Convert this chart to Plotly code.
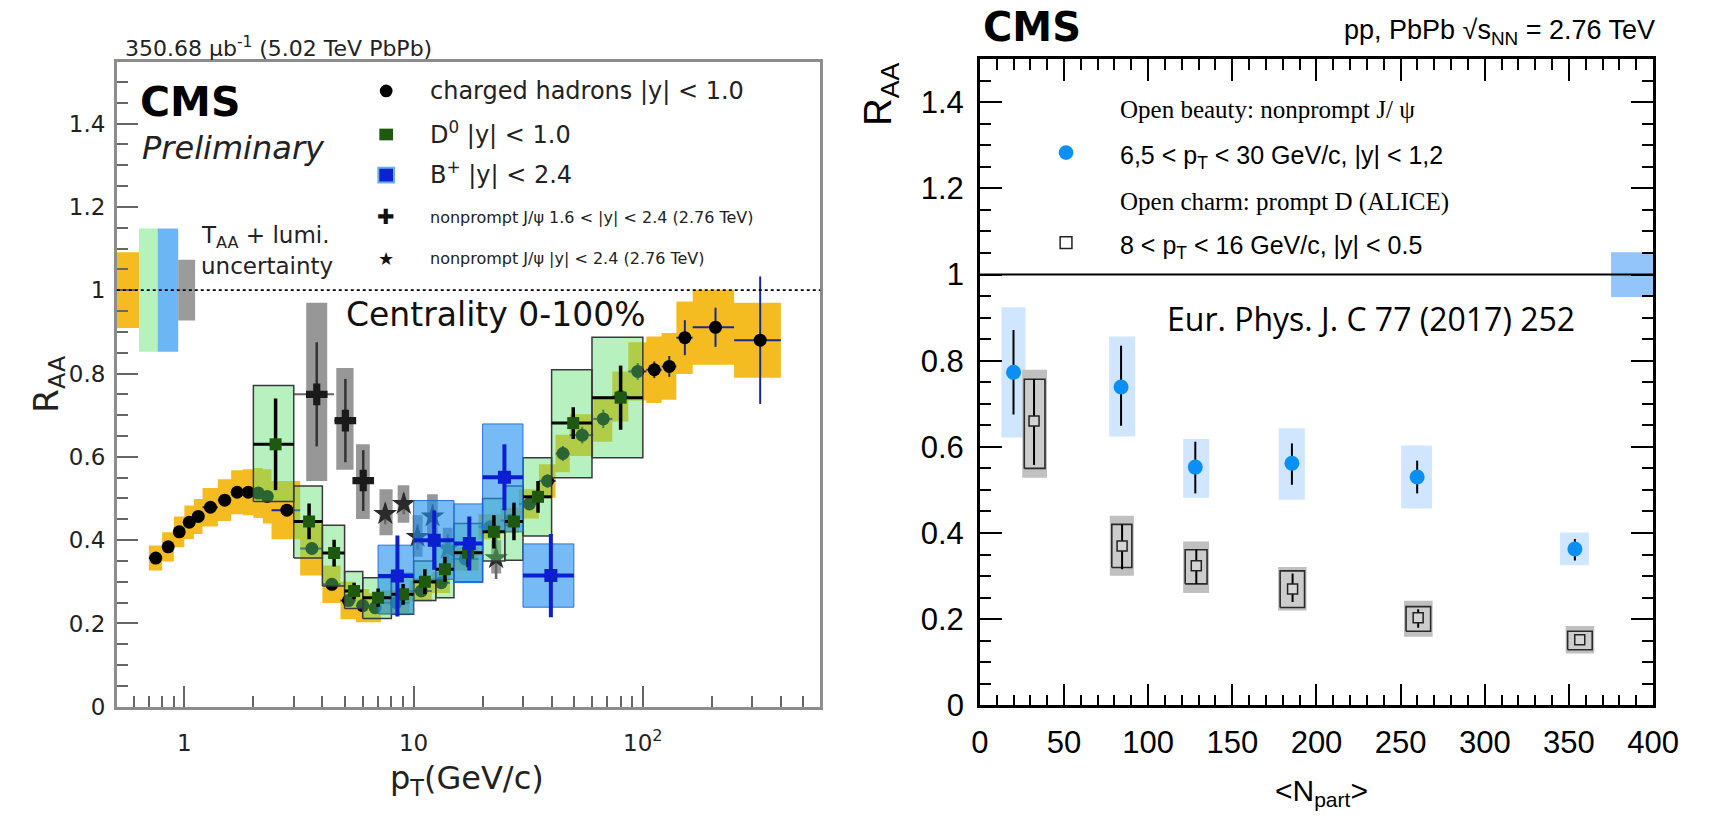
import plotly.graph_objects as go

W, H = 1720, 827

# ---------------- Left panel data (CMS 5.02 TeV, R_AA vs pT) ----------------
ch_pt = [0.75, 0.85, 0.95, 1.05, 1.15, 1.3, 1.5, 1.7, 1.9, 2.1, 2.3, 2.8, 3.6, 4.4, 5.2, 6.0, 6.8, 8.4,
         10.8, 13.2, 16.8, 21.6, 26.4, 32.0, 38.4, 44.8, 54.4, 67.2, 80.0, 95.0, 112.2, 130.4, 152.5, 207.5, 325.0]
ch_lo = [0.7, 0.8, 0.9, 1.0, 1.1, 1.2, 1.4, 1.6, 1.8, 2.0, 2.2, 2.4, 3.2, 4.0, 4.8, 5.6, 6.4, 7.2,
         9.6, 12.0, 14.4, 19.2, 24.0, 28.8, 35.2, 41.6, 48.0, 60.8, 73.6, 86.4, 103.6, 120.8, 140.0, 165.0, 250.0]
ch_hi = [0.8, 0.9, 1.0, 1.1, 1.2, 1.4, 1.6, 1.8, 2.0, 2.2, 2.4, 3.2, 4.0, 4.8, 5.6, 6.4, 7.2, 9.6,
         12.0, 14.4, 19.2, 24.0, 28.8, 35.2, 41.6, 48.0, 60.8, 73.6, 86.4, 103.6, 120.8, 140.0, 165.0, 250.0, 400.0]
ch_raa = [0.357, 0.384, 0.420, 0.443, 0.457, 0.479, 0.496, 0.515, 0.515, 0.513, 0.505, 0.472, 0.380, 0.294,
          0.255, 0.243, 0.238, 0.250, 0.278, 0.298, 0.355, 0.432, 0.447, 0.487, 0.542, 0.608, 0.652, 0.691,
          0.745, 0.805, 0.809, 0.817, 0.886, 0.911, 0.880]
ch_stat = [0.004, 0.004, 0.004, 0.004, 0.004, 0.004, 0.004, 0.004, 0.004, 0.004, 0.004, 0.006, 0.006, 0.005,
           0.005, 0.005, 0.005, 0.005, 0.006, 0.007, 0.008, 0.010, 0.012, 0.014, 0.016, 0.018, 0.020, 0.022,
           0.025, 0.020, 0.020, 0.025, 0.042, 0.047, 0.153]
ch_syst = [0.030, 0.035, 0.037, 0.040, 0.042, 0.046, 0.050, 0.053, 0.055, 0.060, 0.065, 0.070, 0.065, 0.045,
           0.045, 0.040, 0.035, 0.030, 0.025, 0.025, 0.028, 0.030, 0.030, 0.035, 0.040, 0.045, 0.050, 0.055,
           0.060, 0.070, 0.080, 0.080, 0.087, 0.090, 0.090]

d0_pt = [2.5, 3.5, 4.5, 5.5, 7.0, 9.0, 11.2, 13.7, 17.3, 22.4, 27.4, 34.9, 49.7, 80.0]
d0_lo = [2, 3, 4, 5, 6, 8, 10, 12.5, 15, 20, 25, 30, 40, 60]
d0_hi = [3, 4, 5, 6, 8, 10, 12.5, 15, 20, 25, 30, 40, 60, 100]
d0_raa = [0.630, 0.445, 0.369, 0.278, 0.262, 0.270, 0.300, 0.330, 0.370, 0.420, 0.445, 0.504, 0.681, 0.742]
d0_stat = [0.110, 0.043, 0.032, 0.020, 0.022, 0.025, 0.030, 0.030, 0.035, 0.040, 0.045, 0.038, 0.038, 0.077]
d0_sys_lo = [0.493, 0.357, 0.290, 0.236, 0.212, 0.222, 0.255, 0.262, 0.300, 0.350, 0.352, 0.410, 0.550, 0.598]
d0_sys_hi = [0.771, 0.530, 0.436, 0.325, 0.310, 0.320, 0.350, 0.400, 0.440, 0.500, 0.530, 0.598, 0.809, 0.887]

bp_pt = [8.5, 12.3, 17.5, 24.9, 39.7]
bp_lo = [7, 10, 15, 20, 30]
bp_hi = [10, 15, 20, 30, 50]
bp_raa = [0.314, 0.400, 0.392, 0.551, 0.315]
bp_stat = [0.097, 0.071, 0.065, 0.079, 0.100]
bp_sys_lo = [0.223, 0.306, 0.298, 0.420, 0.239]
bp_sys_hi = [0.388, 0.495, 0.487, 0.679, 0.391]

jf_pt = [3.78, 5.04, 6.03]
jf_lo = [3.0, 4.5, 5.5]
jf_hi = [4.5, 5.5, 6.5]
jf_raa = [0.750, 0.687, 0.543]
jf_stat = [0.125, 0.100, 0.073]
jf_box_x0 = [3.40, 4.60, 5.61]
jf_box_x1 = [4.20, 5.47, 6.44]
jf_sys_lo = [0.542, 0.569, 0.451]
jf_sys_hi = [0.970, 0.813, 0.630]

js_pt = [7.52, 9.06, 10.4, 12.1, 14.1, 22.9]
js_raa = [0.463, 0.487, 0.408, 0.457, 0.380, 0.357]
js_stat = [0.025, 0.025, 0.030, 0.030, 0.035, 0.050]
js_box_x0 = [7.10, 8.52, 9.90, 11.45, 13.4, 21.8]
js_box_x1 = [8.10, 9.58, 10.95, 12.75, 14.8, 24.1]
js_sys_lo = [0.412, 0.442, 0.360, 0.410, 0.330, 0.320]
js_sys_hi = [0.522, 0.532, 0.460, 0.510, 0.430, 0.400]

glob_x0 = [0.507, 0.634, 0.764, 0.940]
glob_x1 = [0.634, 0.764, 0.940, 1.114]
glob_lo = [0.909, 0.852, 0.852, 0.927]
glob_hi = [1.091, 1.148, 1.148, 1.073]
glob_col = ["#f5bc22", "#b6f2bd", "#6db6f5", "#9b9b9b"]

# ---------------- Right panel data (CMS 2.76 TeV, R_AA vs Npart) ----------------
np_b = [20.0, 83.9, 128.0, 185.4, 259.8, 353.5]
raa_b = [0.773, 0.739, 0.553, 0.562, 0.530, 0.363]
stat_b_up = [0.098, 0.096, 0.059, 0.046, 0.038, 0.023]
stat_b_dn = [0.098, 0.090, 0.061, 0.050, 0.038, 0.027]
box_b_x0 = [12.8, 76.8, 120.8, 177.6, 250.3, 344.7]
box_b_x1 = [27.1, 92.3, 136.3, 193.1, 268.6, 361.8]
box_b_lo = [0.622, 0.624, 0.482, 0.477, 0.457, 0.325]
box_b_hi = [0.924, 0.856, 0.618, 0.643, 0.603, 0.401]

np_d = [32.2, 84.5, 128.6, 185.8, 260.4, 356.4]
raa_d = [0.660, 0.370, 0.324, 0.270, 0.203, 0.152]
stat_d_up = [0.097, 0.050, 0.037, 0.036, 0.020, 0.008]
stat_d_dn = [0.102, 0.054, 0.042, 0.030, 0.023, 0.008]
box_d_x0 = [26.4, 78.4, 122.0, 178.4, 253.2, 349.2]
box_d_x1 = [38.7, 90.3, 135.0, 192.9, 267.8, 363.8]
box_d_lo = [0.550, 0.320, 0.282, 0.227, 0.172, 0.129]
box_d_hi = [0.757, 0.420, 0.361, 0.312, 0.229, 0.172]
shade_d_lo = [0.528, 0.301, 0.261, 0.220, 0.159, 0.120]
shade_d_hi = [0.779, 0.440, 0.380, 0.321, 0.243, 0.184]

glob_r_x0, glob_r_x1 = [375.0], [400.0]
glob_r_lo, glob_r_hi = [0.948], [1.052]

REF = 1.0

left_xticks = [1, 10, 100]
left_xticktext = ["1", "10", "10<sup>2</sup>"]
left_xminor = [0.6, 0.7, 0.8, 0.9, 2, 3, 4, 5, 6, 7, 8, 9, 20, 30, 40, 50, 60, 70, 80, 90, 200, 300, 400, 500]
ytick_vals = [0, 0.2, 0.4, 0.6, 0.8, 1.0, 1.2, 1.4]
ytick_text = ["0", "0.2", "0.4", "0.6", "0.8", "1", "1.2", "1.4"]
right_xticks = [0, 50, 100, 150, 200, 250, 300, 350, 400]


def rects(x0s, x1s, y0s, y1s):
    xs, ys = [], []
    for a, b, c, d in zip(x0s, x1s, y0s, y1s):
        xs += [a, b, b, a, a, None]
        ys += [c, c, d, d, c, None]
    return xs, ys


def box_trace(x0s, x1s, y0s, y1s, fill, line_col=None, lw=0, xa="x", ya="y"):
    xs, ys = rects(x0s, x1s, y0s, y1s)
    return go.Scatter(x=xs, y=ys, mode="lines", fill="toself", fillcolor=fill,
                      line=dict(color=line_col if line_col else "rgba(0,0,0,0)", width=lw),
                      hoverinfo="skip", xaxis=xa, yaxis=ya)


fig = go.Figure()

# global uncertainty boxes (left)
for i in range(len(glob_x0)):
    fig.add_trace(box_trace([glob_x0[i]], [glob_x1[i]], [glob_lo[i]], [glob_hi[i]], glob_col[i]))

# charged hadrons systematics
fig.add_trace(box_trace(ch_lo, ch_hi, [r - s for r, s in zip(ch_raa, ch_syst)],
                        [r + s for r, s in zip(ch_raa, ch_syst)], "#f5bc22"))
# charged hadrons points
fig.add_trace(go.Scatter(
    x=ch_pt, y=ch_raa, mode="markers",
    marker=dict(symbol="circle", size=13, color="black"),
    error_y=dict(type="data", array=ch_stat, color="#1b2a8a", thickness=2, width=0),
    error_x=dict(type="data", array=[h - p for h, p in zip(ch_hi, ch_pt)],
                 arrayminus=[p - l for p, l in zip(ch_pt, ch_lo)], color="#1b2a8a", thickness=2, width=0),
    hoverinfo="skip"))

# nonprompt J/psi boxes and points
fig.add_trace(box_trace(jf_box_x0, jf_box_x1, jf_sys_lo, jf_sys_hi, "rgba(125,125,125,0.8)"))
fig.add_trace(box_trace(js_box_x0, js_box_x1, js_sys_lo, js_sys_hi, "rgba(125,125,125,0.8)"))
fig.add_trace(go.Scatter(
    x=jf_pt, y=jf_raa, mode="markers",
    marker=dict(symbol="cross", size=18, color="#1a1a1a", line=dict(width=0)),
    error_y=dict(type="data", array=jf_stat, color="#333333", thickness=2.5, width=0),
    error_x=dict(type="data", array=[h - p for h, p in zip(jf_hi, jf_pt)],
                 arrayminus=[p - l for p, l in zip(jf_pt, jf_lo)], color="#666666", thickness=2, width=0),
    hoverinfo="skip"))
fig.add_trace(go.Scatter(
    x=js_pt, y=js_raa, mode="markers",
    marker=dict(symbol="star", size=18, color="#2a2a2a", line=dict(width=0)),
    error_y=dict(type="data", array=js_stat, color="#666666", thickness=2.5, width=0),
    hoverinfo="skip"))

# D0 boxes, B+ boxes
fig.add_trace(box_trace(d0_lo, d0_hi, d0_sys_lo, d0_sys_hi, "rgba(95,225,115,0.45)", "#3a3a3a", 1.5))
fig.add_trace(box_trace(bp_lo, bp_hi, bp_sys_lo, bp_sys_hi, "rgba(35,145,240,0.62)", "rgba(30,100,220,0.9)", 1))

fig.add_trace(go.Scatter(
    x=d0_pt, y=d0_raa, mode="markers",
    marker=dict(symbol="square", size=12, color="#1d5a10"),
    error_y=dict(type="data", array=d0_stat, color="black", thickness=3.5, width=0),
    error_x=dict(type="data", array=[h - p for h, p in zip(d0_hi, d0_pt)],
                 arrayminus=[p - l for p, l in zip(d0_pt, d0_lo)], color="black", thickness=3, width=0),
    hoverinfo="skip"))
fig.add_trace(go.Scatter(
    x=bp_pt, y=bp_raa, mode="markers",
    marker=dict(symbol="square", size=13, color="#0b1ed0"),
    error_y=dict(type="data", array=bp_stat, color="#0b1ed0", thickness=4, width=0),
    error_x=dict(type="data", array=[h - p for h, p in zip(bp_hi, bp_pt)],
                 arrayminus=[p - l for p, l in zip(bp_pt, bp_lo)], color="#0b1ed0", thickness=4, width=0),
    hoverinfo="skip"))

# ---------------- Right panel traces ----------------
fig.add_trace(box_trace(glob_r_x0, glob_r_x1, glob_r_lo, glob_r_hi, "rgba(60,150,245,0.55)", xa="x2", ya="y2"))
fig.add_trace(box_trace(box_b_x0, box_b_x1, box_b_lo, box_b_hi, "rgba(40,140,255,0.22)", xa="x2", ya="y2"))
fig.add_trace(box_trace([a - 1.2 for a in box_d_x0], [b + 1.2 for b in box_d_x1], shade_d_lo, shade_d_hi,
                        "rgb(192,192,192)", xa="x2", ya="y2"))
fig.add_trace(box_trace(box_d_x0, box_d_x1, box_d_lo, box_d_hi, "rgb(204,204,204)", "#2a2a2a", 1.6,
                        xa="x2", ya="y2"))
fig.add_trace(go.Scatter(
    x=np_b, y=raa_b, mode="markers", xaxis="x2", yaxis="y2",
    marker=dict(symbol="circle", size=15, color="#0a90f5"),
    error_y=dict(type="data", array=stat_b_up, arrayminus=stat_b_dn, color="black", thickness=2, width=0),
    hoverinfo="skip"))
fig.add_trace(go.Scatter(
    x=np_d, y=raa_d, mode="markers", xaxis="x2", yaxis="y2",
    marker=dict(symbol="square", size=10, color="#d4d4d4", line=dict(color="#222222", width=1.5)),
    error_y=dict(type="data", array=stat_d_up, arrayminus=stat_d_dn, color="black", thickness=2, width=0),
    hoverinfo="skip"))


def px(p):
    return p / W


def py(p):
    return 1 - p / H


LF = "DejaVu Sans"
RF = "Liberation Sans"
SF = "Liberation Serif"

annotations = []


def ann(text, x, y, size, family, xanchor="left", yanchor="middle", color="black", angle=0):
    annotations.append(dict(text=text, x=px(x), y=py(y), xref="paper", yref="paper",
                            xanchor=xanchor, yanchor=yanchor, showarrow=False, textangle=angle,
                            font=dict(family=family, size=size, color=color)))


# left panel texts
ann("350.68 μb<sup>-1</sup> (5.02 TeV PbPb)", 116, 48, 22, LF, color="#222222")
ann("<b>CMS</b>", 132, 104, 41, LF)
ann("<i>Preliminary</i>", 134, 151, 32, LF, color="#222222")
ann("charged hadrons |y| &lt; 1.0", 428, 93, 24, LF, color="#222222")
ann("D<sup>0</sup> |y| &lt; 1.0", 428, 136, 24, LF, color="#222222")
ann("B<sup>+</sup> |y| &lt; 2.4", 428, 177, 24, LF, color="#222222")
ann("nonprompt J/ψ 1.6 &lt; |y| &lt; 2.4 (2.76 TeV)", 428, 222, 16, LF, color="#222222")
ann("nonprompt J/ψ |y| &lt; 2.4 (2.76 TeV)", 428, 264, 16, LF, color="#222222")
ann("✚", 385, 222, 21, LF, xanchor="center", color="#111111")
ann("★", 385, 264, 18, LF, xanchor="center", color="#111111")
ann("T<sub>AA</sub> + lumi.", 194, 242, 23, LF, color="#222222")
ann("uncertainty", 194, 272, 23, LF, color="#222222")
ann("Centrality 0-100%", 342, 322, 33, LF, color="#111111")
ann("R<sub>AA</sub>", 40, 392, 34, LF, xanchor="center", angle=-90, color="#222222")
ann("p<sub>T</sub>(GeV/c)", 468, 797, 32, LF, xanchor="center", color="#222222")

# right panel texts
ann("<b>CMS</b>", 992, 28, 40, LF)
ann("pp, PbPb √s<sub>NN</sub> = 2.76 TeV", 1682, 33, 27, RF, xanchor="right")
ann("R<sub>AA</sub>", 890, 96, 38, RF, xanchor="center", angle=-90)
ann("&lt;N<sub>part</sub>&gt;", 1340, 810, 30, RF, xanchor="center")
ann("Open beauty: nonprompt J/ ψ", 1132, 112, 25, SF)
ann("6,5 &lt; p<sub>T</sub> &lt; 30 GeV/c, |y| &lt; 1,2", 1132, 161, 25, RF)
ann("Open charm: prompt D (ALICE)", 1132, 206, 25, SF)
ann("8 &lt; p<sub>T</sub> &lt; 16 GeV/c, |y| &lt; 0.5", 1132, 253, 25, RF)
ann("Eur. Phys. J. C 77 (2017) 252", 1180, 326, 32, "Open Sans")

shapes = [
    dict(type="line", xref="x domain", yref="y", x0=0, x1=1, y0=REF, y1=REF,
         line=dict(color="black", width=1.8, dash="dot"), layer="above"),
    dict(type="line", xref="x2 domain", yref="y2", x0=0, x1=1, y0=REF, y1=REF,
         line=dict(color="black", width=2), layer="above"),
    # legend markers (left)
    dict(type="circle", xref="paper", yref="paper", x0=px(378.5), x1=px(391.5), y0=py(99.5), y1=py(86.5),
         fillcolor="black", line=dict(width=0)),
    dict(type="rect", xref="paper", yref="paper", x0=px(378), x1=px(392), y0=py(143.5), y1=py(131.5),
         fillcolor="#1d5a10", line=dict(width=0)),
    dict(type="rect", xref="paper", yref="paper", x0=px(377), x1=px(393), y0=py(186.5), y1=py(171.5),
         fillcolor="#0b22d0", line=dict(color="#6ab0f0", width=2)),
    # legend markers (right)
    dict(type="circle", xref="paper", yref="paper", x0=px(1071.5), x1=px(1086.5), y0=py(163.5), y1=py(148.5),
         fillcolor="#0a90f5", line=dict(width=0)),
    dict(type="rect", xref="paper", yref="paper", x0=px(1073), x1=px(1085), y0=py(254), y1=py(242),
         fillcolor="white", line=dict(color="#222222", width=1.5)),
]

left_axis_common = dict(showline=True, linecolor="#8c8c8c", linewidth=2.5, mirror=True,
                        ticks="inside", tickcolor="#666666", tickwidth=1.5, ticklen=21,
                        showgrid=False, zeroline=False,
                        tickfont=dict(family=LF, size=23, color="#222222"))
right_axis_common = dict(showline=True, linecolor="black", linewidth=2.5, mirror="ticks",
                         ticks="inside", tickcolor="black", tickwidth=2, ticklen=22,
                         showgrid=False, zeroline=False,
                         tickfont=dict(family=RF, size=31, color="black"))

fig.update_layout(
    width=W, height=H, margin=dict(l=0, r=0, t=0, b=0),
    paper_bgcolor="white", plot_bgcolor="white", showlegend=False,
    xaxis=dict(domain=[px(110), px(828)], type="log", range=[-0.2949, 2.7735], anchor="y",
               tickmode="array", tickvals=left_xticks, ticktext=left_xticktext, ticklabelstandoff=14,
               minor=dict(ticks="inside", ticklen=11, tickwidth=1.5, tickcolor="#666666",
                          tickvals=left_xminor, showgrid=False),
               **left_axis_common),
    yaxis=dict(domain=[py(722.5), py(63.3)], range=[0, 1.548], anchor="x",
               tickmode="array", tickvals=ytick_vals, ticktext=ytick_text, ticklabelstandoff=4,
               minor=dict(ticks="inside", ticklen=11, tickwidth=1.5, tickcolor="#666666",
                          dtick=0.05, tick0=0, showgrid=False),
               **left_axis_common),
    xaxis2=dict(domain=[px(991), px(1678.3)], range=[0, 400], anchor="y2",
                tickmode="array", tickvals=right_xticks, ticklabelstandoff=8,
                minor=dict(ticks="inside", ticklen=11, tickwidth=2, tickcolor="black",
                           dtick=10, tick0=0, showgrid=False),
                **right_axis_common),
    yaxis2=dict(domain=[py(721), py(60.5)], range=[0, 1.5], anchor="x2",
                tickmode="array", tickvals=ytick_vals, ticktext=ytick_text, ticklabelstandoff=7,
                minor=dict(ticks="inside", ticklen=11, tickwidth=2, tickcolor="black",
                           dtick=0.05, tick0=0, showgrid=False),
                **right_axis_common),
    annotations=annotations,
    shapes=shapes,
)

fig.write_html("out.html", config={"displayModeBar": False},
               post_script="document.body.style.margin='0';document.body.style.overflow='hidden';")
